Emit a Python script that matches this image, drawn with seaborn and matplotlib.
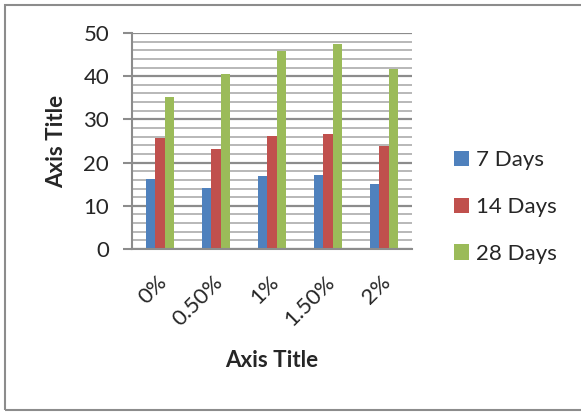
import matplotlib
matplotlib.use("Agg")
import matplotlib.pyplot as plt
from matplotlib.ticker import MultipleLocator
from matplotlib.patches import Rectangle
from matplotlib.transforms import ScaledTranslation
import seaborn as sns
import pandas as pd

categories = ["0%", "0.50%", "1%", "1.50%", "2%"]
series_names = ["7 Days", "14 Days", "28 Days"]
days7 = [16.1, 14.1, 16.9, 17.1, 15.0]
days14 = [25.6, 23.1, 26.1, 26.7, 23.8]
days28 = [35.2, 40.5, 45.8, 47.4, 41.6]
colors = ["#4F81BD", "#C0504D", "#9BBB59"]

rows = []
for name, vals in zip(series_names, [days7, days14, days28]):
    for c, v in zip(categories, vals):
        rows.append({"cat": c, "series": name, "value": v})
df = pd.DataFrame(rows)

sns.set_theme(style="white")
plt.rcParams["font.family"] = ["Lato", "DejaVu Sans"]

fig = plt.figure(figsize=(5.81, 4.12), dpi=100)
ax = fig.add_axes([132 / 581, 1 - 249 / 412, (412 - 132) / 581, (249 - 33) / 412])

sns.barplot(data=df, x="cat", y="value", hue="series", order=categories,
            hue_order=series_names, palette=colors, width=0.5, ax=ax,
            saturation=1, edgecolor="none", linewidth=0, errorbar=None)

ax.set_ylim(0, 50)
ax.set_xlim(-0.5, 4.5)
ax.yaxis.set_major_locator(MultipleLocator(10))
ax.yaxis.set_minor_locator(MultipleLocator(2))
ax.set_axisbelow(True)
ax.yaxis.grid(True, which="major", color="#8C8C8C", linewidth=1.6)
ax.yaxis.grid(True, which="minor", color="#B8B8B8", linewidth=1.4)
ax.xaxis.grid(False)

for s in ["top", "right"]:
    ax.spines[s].set_visible(False)
for s in ["left", "bottom"]:
    ax.spines[s].set_color("#8C8C8C")
    ax.spines[s].set_linewidth(1.5)

ax.tick_params(axis="y", which="major", length=6.5, width=1.5, color="#8C8C8C",
               labelsize=16, pad=10, left=True)
ax.tick_params(axis="y", which="minor", length=0)
ax.tick_params(axis="x", length=0, labelsize=16, pad=0)
off = ScaledTranslation(4 / 100, -30 / 100, fig.dpi_scale_trans)
for lbl in ax.get_xticklabels():
    lbl.set_rotation(45)
    lbl.set_ha("right")
    lbl.set_va("center")
    lbl.set_rotation_mode("anchor")
    lbl.set_transform(lbl.get_transform() + off)

ax.set_xlabel("Axis Title", fontsize=16, fontweight="bold")
ax.set_ylabel("Axis Title", fontsize=16, fontweight="bold")
ax.xaxis.label.set_va("center")
ax.yaxis.label.set_va("center")
ax.xaxis.set_label_coords(0.5, (249 - 361) / 216)
ax.yaxis.set_label_coords((57 - 132) / 280, 0.5)

leg = ax.legend(loc="center left", bbox_to_anchor=(1.15, 0.194), frameon=False,
                fontsize=16, handlelength=0.68, handleheight=0.68,
                handletextpad=0.3, labelspacing=1.2, borderpad=0, borderaxespad=0)

fig.patches.append(Rectangle((5 / 581, 2 / 412), 1.0, 1 - 7 / 412,
                             transform=fig.transFigure, fill=False,
                             edgecolor="#8C8C8C", linewidth=1.5))

fig.savefig("out.png", dpi=100)
